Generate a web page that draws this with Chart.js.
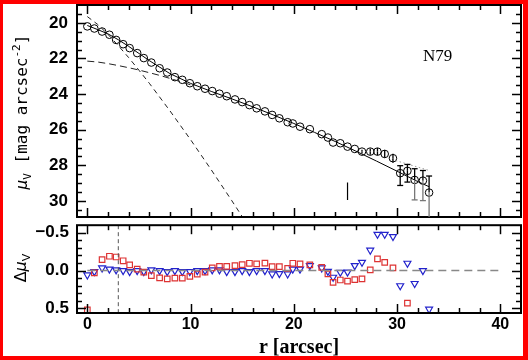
<!DOCTYPE html>
<html>
<head>
<meta charset="utf-8">
<script src="https://cdn.jsdelivr.net/npm/chart.js@4.4.0/dist/chart.umd.min.js"></script>
<style>
  body { margin: 0; background: #fff; }
  #page { position: relative; width: 528px; height: 360px; overflow: hidden; background: #fff; }
  #topBox { position: absolute; left: 0; top: 0; }
  #botBox { position: absolute; left: 0; top: 220px; }
  .ytitle { position: absolute; transform: translate(-50%, -50%) rotate(-90deg); white-space: nowrap; color: #000; }
  .ytitle sub, .ytitle sup { font-size: 11px; }
  #redFrame { position: absolute; left: 0; top: 0; width: 528px; height: 360px; box-sizing: border-box;
    border-style: solid; border-color: #f00; border-width: 4px 5px 4px 3px; pointer-events: none; }
  #galaxy { position: absolute; left: 423px; top: 47px; font: 17px "Liberation Serif", serif; line-height: 17px; }
</style>
</head>
<body>
<div id="page">
  <div id="topBox"><canvas id="topChart" width="528" height="222"></canvas></div>
  <div id="botBox"><canvas id="botChart" width="528" height="140"></canvas></div>
  <div class="ytitle" style="left:22px; top:112px; font:16px 'DejaVu Sans Mono', monospace;"><i>μ</i><sub>V</sub> [mag arcsec<sup>-2</sup>]</div>
  <div class="ytitle" style="left:22px; top:268px; font:16px 'DejaVu Sans', sans-serif;">Δ<i>μ</i><sub>V</sub></div>
  <div id="galaxy">N79</div>
  <div id="redFrame"></div>
</div>
<script>
// radius of each isophote (arcsec)
const radius = [0, 0.68, 1.43, 2.14, 2.79, 3.47, 4.1, 4.83, 5.47, 6.2, 7.0, 7.74, 8.48, 9.2, 9.93,
  10.65, 11.4, 12.1, 12.8, 13.5, 14.3, 15.0, 15.7, 16.4, 17.2, 17.9, 18.6, 19.4, 19.9, 20.6,
  21.55, 22.7, 23.3, 23.8, 24.5, 25.2, 25.9, 26.6, 27.4, 28.1, 28.8, 29.6, 30.3, 31.0, 31.7, 32.5, 33.1];
// surface brightness mu_V
const muV = [20.2, 20.32, 20.49, 20.67, 20.96, 21.2, 21.42, 21.7, 21.98, 22.23, 22.55, 22.79, 23.05, 23.2, 23.39,
  23.56, 23.7, 23.83, 23.98, 24.12, 24.3, 24.45, 24.62, 24.8, 24.97, 25.17, 25.36, 25.58, 25.65, 25.83,
  25.97, 26.25, 26.44, 26.72, 26.76, 26.95, 27.08, 27.23, 27.23, 27.23, 27.36, 27.6, 28.44, 28.31, 28.82, 28.86, 29.53];
// error bars (brighter side / fainter side)
const errUp = [0, 0, 0, 0, 0, 0, 0, 0, 0, 0, 0, 0, 0, 0, 0,
  0, 0, 0, 0, 0, 0, 0, 0, 0, 0, 0, 0, 0, 0, 0,
  0, 0, 0, 0, 0, 0, 0, 0.1, 0.17, 0.2, 0.22, 0.25, 0.42, 0.36, 0.63, 0.57, 0.93];
const errDown = [0, 0, 0, 0, 0, 0, 0, 0, 0, 0, 0, 0, 0, 0, 0,
  0, 0, 0, 0, 0, 0, 0, 0, 0, 0, 0, 0, 0, 0, 0,
  0, 0, 0, 0, 0, 0, 0, 0.1, 0.17, 0.2, 0.22, 0.25, 0.69, 0.63, 1.12, 1.12, 3.0];
// residuals
const resRed = [0.52, 0.03, -0.146, -0.19, -0.18, -0.13, -0.075, -0.02, 0.02, 0.066, 0.097, 0.11, 0.10, 0.10, 0.075,
  0.045, 0.02, -0.035, -0.057, -0.057, -0.065, -0.08, -0.097, -0.09, -0.1, -0.053, -0.053, -0.03, -0.097, -0.088,
  -0.075, -0.044, 0.044, 0.155, 0.124, 0.14, 0.119, 0.11, -0.009, -0.155, -0.11, -0.035, null, 0.43, null, null, null];
const resBlue = [0.057, 0.013, -0.035, -0.02, -0.01, 0.0, 0.013, 0.0, 0.013, -0.01, 0.0, 0.013, 0.0, 0.013, 0.013,
  0.0, 0.0, -0.01, -0.01, 0.013, 0.013, 0.0, 0.013, 0.0, 0.0, 0.044, 0.04, 0.044, -0.02, -0.02,
  -0.066, -0.035, 0.01, 0.088, 0.022, 0.02, -0.066, -0.11, -0.27, -0.48, -0.48, -0.45, 0.2, -0.097, 0.17, 0.0, 0.51];

// model components
const bulgeR = [0, 1, 2, 3, 4, 5, 6, 8, 10, 12, 14, 15];
const bulgeMu = [19.65, 20.09, 20.65, 21.28, 21.95, 22.66, 23.39, 24.94, 26.56, 28.25, 29.99, 30.88];
const diskR = [0, 1, 2, 3, 4, 5, 6, 7, 8, 9, 10];
const diskMu = [22.15, 22.2, 22.29, 22.4, 22.52, 22.65, 22.8, 22.95, 23.12, 23.3, 23.48];
const totalR = [0, 1, 2, 3, 4, 5, 6, 8, 10, 12, 14, 16, 18, 20, 22, 24, 26, 28, 30, 32, 33.1];
const totalMu = [20.15, 20.38, 20.62, 20.95, 21.32, 21.72, 22.12, 22.85, 23.4, 23.85, 24.27, 24.71, 25.17, 25.65,
  26.15, 26.66, 27.2, 27.76, 28.33, 28.91, 29.2];
const dottedR = [29.5, 33.0];
const dottedMu = [27.67, 28.27];
const markR = [25.2, 25.2];
const markMu = [28.97, 29.94];
const cutR = [3, 3];

// ticks
const xMajor = [0, 10, 20, 30, 40];
const xMinor = [0, 2, 4, 6, 8, 10, 12, 14, 16, 18, 20, 22, 24, 26, 28, 30, 32, 34, 36, 38, 40];
const muMajor = [20, 22, 24, 26, 28, 30];
const muMinor = [19.5, 20, 20.5, 21, 21.5, 22, 22.5, 23, 23.5, 24, 24.5, 25, 25.5, 26, 26.5, 27, 27.5, 28, 28.5, 29, 29.5, 30, 30.5];
const resMajor = [-0.5, 0, 0.5];
const resMinor = [-0.5, -0.4, -0.3, -0.2, -0.1, 0, 0.1, 0.2, 0.3, 0.4, 0.5];

const pairs = (xs, ys) => xs.map((v, i) => ({ x: v, y: ys[i] })).filter(p => p.y !== null);

// no extra room for labels that hang past the plot edges
const noOverhang = s => { s.paddingTop = 0; s.paddingBottom = 0; s.paddingLeft = 0; s.paddingRight = 0; };

// box + inward ticks on all four sides
const frame = {
  id: 'frame',
  afterDatasetsDraw(chart, args, opts) {
    const { ctx, chartArea: a, scales: { x, y } } = chart;
    ctx.save();
    ctx.strokeStyle = '#000';
    ctx.lineWidth = 1.5;
    const seg = (x1, y1, x2, y2) => { ctx.beginPath(); ctx.moveTo(x1, y1); ctx.lineTo(x2, y2); ctx.stroke(); };
    opts.xMinor.forEach(v => {
      const px = Math.round(x.getPixelForValue(v)) + 0.5;
      const len = opts.xMajor.includes(v) ? 9 : 5;
      seg(px, a.top, px, a.top + len);
      seg(px, a.bottom, px, a.bottom - len);
    });
    opts.yMinor.forEach(v => {
      const py = Math.round(y.getPixelForValue(v)) + 0.5;
      const len = opts.yMajor.includes(v) ? 9 : 5;
      seg(a.left, py, a.left + len, py);
      seg(a.right, py, a.right - len, py);
    });
    ctx.lineWidth = 2;
    ctx.strokeRect(a.left, a.top, a.right - a.left, a.bottom - a.top);
    ctx.restore();
  }
};

// error bars for the profile
const errorBars = {
  id: 'errorBars',
  afterDatasetsDraw(chart) {
    const { ctx, chartArea: a, scales: { x, y } } = chart;
    ctx.save();
    ctx.beginPath();
    ctx.rect(a.left, a.top, a.right - a.left, a.bottom - a.top);
    ctx.clip();
    ctx.lineWidth = 1.3;
    radius.forEach((r, i) => {
      if (!errUp[i] && !errDown[i]) return;
      const px = x.getPixelForValue(r);
      const pc = y.getPixelForValue(muV[i]);
      const pu = y.getPixelForValue(muV[i] - errUp[i]);
      const pd = y.getPixelForValue(muV[i] + errDown[i]);
      ctx.strokeStyle = '#000';
      ctx.beginPath(); ctx.moveTo(px, pc); ctx.lineTo(px, pu); ctx.stroke();
      if (errUp[i] > 0.3) { ctx.beginPath(); ctx.moveTo(px - 3, pu); ctx.lineTo(px + 3, pu); ctx.stroke(); }
      ctx.strokeStyle = errDown[i] > 1 ? '#777' : '#000';
      ctx.beginPath(); ctx.moveTo(px, pc); ctx.lineTo(px, pd); ctx.stroke();
      if (errDown[i] > 0.3) { ctx.beginPath(); ctx.moveTo(px - 3, pd); ctx.lineTo(px + 3, pd); ctx.stroke(); }
    });
    ctx.restore();
  }
};

const tickFont = { family: 'Liberation Sans', weight: 'bold', size: 17 };

new Chart(document.getElementById('topChart'), {
  type: 'scatter',
  data: {
    datasets: [
      { data: pairs(totalR, totalMu), showLine: true, borderColor: '#000', borderWidth: 1, pointRadius: 0 },
      { data: pairs(bulgeR, bulgeMu), showLine: true, borderColor: '#222', borderWidth: 1, borderDash: [5, 4], pointRadius: 0 },
      { data: pairs(diskR, diskMu), showLine: true, borderColor: '#222', borderWidth: 1, borderDash: [7, 4], pointRadius: 0 },
      { data: pairs(dottedR, dottedMu), showLine: true, borderColor: '#999', borderWidth: 1, borderDash: [1.5, 2.5], pointRadius: 0 },
      { data: pairs(markR, markMu), showLine: true, borderColor: '#000', borderWidth: 1.2, pointRadius: 0 },
      { data: pairs(radius, muV), showLine: false, pointStyle: 'circle', pointRadius: 3.8,
        borderColor: '#000', borderWidth: 1, backgroundColor: 'rgba(0,0,0,0)' }
    ]
  },
  options: {
    responsive: false,
    animation: false,
    devicePixelRatio: 1,
    layout: { padding: { left: 0, right: 7, top: 5, bottom: 5 } },
    plugins: {
      legend: { display: false },
      tooltip: { enabled: false },
      frame: { xMajor, xMinor, yMajor: muMajor, yMinor: muMinor }
    },
    scales: {
      x: { type: 'linear', min: -1, max: 42, display: false },
      y: {
        type: 'linear', min: 19, max: 30.9, reverse: true,
        grid: { display: false, drawTicks: false }, border: { display: false },
        ticks: { font: tickFont, color: '#000', padding: 9 },
        afterBuildTicks: s => { s.ticks = muMajor.map(v => ({ value: v })); },
        afterFit: s => { s.width = 77; noOverhang(s); }
      }
    }
  },
  plugins: [frame, errorBars]
});

new Chart(document.getElementById('botChart'), {
  type: 'scatter',
  data: {
    datasets: [
      { data: [{ x: 0, y: 0 }, { x: 40, y: 0 }], showLine: true, borderColor: '#888', borderWidth: 1.5, borderDash: [8, 5], pointRadius: 0 },
      { data: [{ x: cutR[0], y: -0.6 }, { x: cutR[1], y: 0.56 }], showLine: true, borderColor: '#555', borderWidth: 1, borderDash: [4, 3], pointRadius: 0 },
      { data: pairs(radius, resRed), showLine: false, pointStyle: 'rect', pointRadius: 3.9,
        borderColor: '#dd3333', borderWidth: 1.2, backgroundColor: 'rgba(0,0,0,0)' },
      { data: pairs(radius, resBlue), showLine: false, pointStyle: 'triangle', rotation: 180, pointRadius: 4,
        borderColor: '#2222cc', borderWidth: 1.2, backgroundColor: 'rgba(0,0,0,0)' }
    ]
  },
  options: {
    responsive: false,
    animation: false,
    devicePixelRatio: 1,
    layout: { padding: { left: 0, right: 7, top: 5, bottom: 0 } },
    plugins: {
      legend: { display: false },
      tooltip: { enabled: false },
      frame: { xMajor, xMinor, yMajor: resMajor, yMinor: resMinor }
    },
    scales: {
      x: {
        type: 'linear', min: -1, max: 42,
        grid: { display: false, drawTicks: false }, border: { display: false },
        ticks: { font: { family: 'Liberation Sans', weight: 'bold', size: 16 }, color: '#000', padding: 2 },
        afterBuildTicks: s => { s.ticks = xMajor.map(v => ({ value: v })); },
        afterFit: s => { s.height = 47; noOverhang(s); },
        title: { display: true, text: 'r [arcsec]', color: '#000', padding: { top: 0, bottom: 0 },
          font: { family: 'Liberation Serif', weight: 'bold', size: 20 } }
      },
      y: {
        type: 'linear', min: -0.6, max: 0.56, reverse: true,
        grid: { display: false, drawTicks: false }, border: { display: false },
        ticks: { font: tickFont, color: '#000', padding: 8,
          callback: v => (v < 0 ? '\u2212' : '') + Math.abs(v).toFixed(1) },
        afterBuildTicks: s => { s.ticks = resMajor.map(v => ({ value: v })); },
        afterFit: s => { s.width = 77; noOverhang(s); }
      }
    }
  },
  plugins: [frame]
});
</script>
</body>
</html>
